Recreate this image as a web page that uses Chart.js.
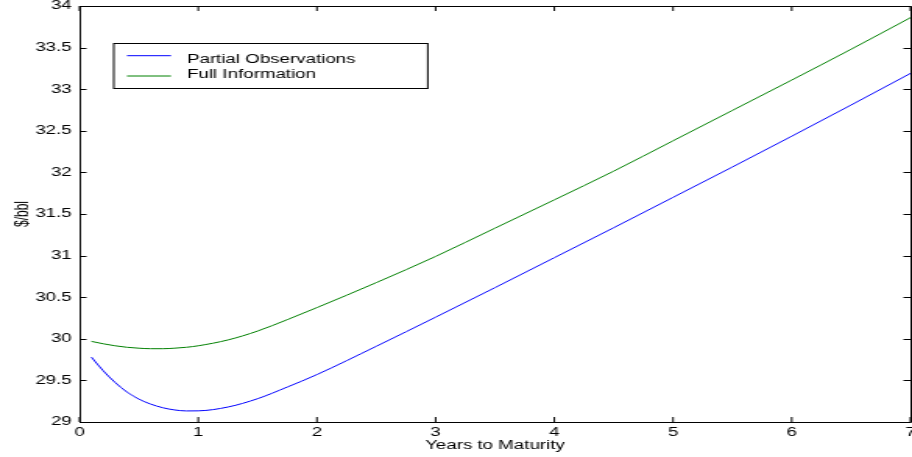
<!DOCTYPE html>
<html>
<head>
<meta charset="utf-8">
<script src="https://cdn.jsdelivr.net/npm/chart.js@4/dist/chart.umd.min.js"></script>
<style>
  html, body { margin: 0; padding: 0; background: #fff; overflow: hidden; }
  #wrap { width: 912px; height: 457px; overflow: hidden; }
  canvas { transform-origin: 0 0; }
</style>
</head>
<body>
<div id="wrap"><canvas id="chart" width="585" height="457"></canvas></div>
<script>
// the original figure is a horizontally stretched raster, so the chart is drawn
// narrower and widened with a css transform
const STRETCH = 912 / 585;

const maturity = [0.1, 0.2, 0.3, 0.4, 0.5, 0.6, 0.7, 0.8, 0.9, 1.0, 1.25, 1.5, 1.75,
                  2, 2.5, 3, 3.5, 4, 4.5, 5, 5.5, 6, 6.5, 7];

const partialObs = [29.78, 29.615, 29.475, 29.36, 29.275, 29.215, 29.172, 29.145, 29.133, 29.134,
                    29.18, 29.28, 29.42, 29.57, 29.91, 30.26, 30.615, 30.975, 31.335, 31.70,
                    32.065, 32.435, 32.81, 33.19];

const fullInfo = [29.969, 29.94, 29.916, 29.898, 29.887, 29.881, 29.881, 29.887, 29.898, 29.916,
                  29.986, 30.093, 30.23, 30.375, 30.675, 30.99, 31.33, 31.67, 32.015, 32.38,
                  32.745, 33.11, 33.48, 33.86];

const seriesLabels = ['Partial Observations', 'Full Information'];
const seriesColors = ['#0000ff', '#008000'];

const FONT = '"Liberation Sans", Arial, Helvetica, sans-serif';

const toPoints = ys => maturity.map((x, i) => ({ x, y: ys[i] }));
const px = v => v / STRETCH;
const plainNumber = v => String(Number(v.toFixed(1)));

// box round the axes, ticks pointing inwards on all four sides
const frameTicks = {
    id: 'frameTicks',
    afterDraw(chart) {
        const { ctx, chartArea: a, scales } = chart;
        const len = 4.5;
        ctx.save();
        ctx.strokeStyle = '#000';
        ctx.lineWidth = 1;
        ctx.beginPath();
        ctx.rect(a.left + 0.5, a.top + 0.5, a.right - a.left, a.bottom - a.top);
        ctx.stroke();

        ctx.beginPath();
        scales.x.ticks.forEach(t => {
            const x = scales.x.getPixelForValue(t.value);
            ctx.moveTo(x, a.bottom);
            ctx.lineTo(x, a.bottom - 5);
            ctx.moveTo(x, a.top);
            ctx.lineTo(x, a.top + 5);
        });
        scales.y.ticks.forEach(t => {
            const y = Math.round(scales.y.getPixelForValue(t.value)) + 0.5;
            ctx.moveTo(a.left, y);
            ctx.lineTo(a.left + len, y);
            ctx.moveTo(a.right, y);
            ctx.lineTo(a.right - len, y);
        });
        ctx.stroke();
        ctx.restore();
    },
};

const legendBox = {
    id: 'legendBox',
    afterDraw(chart) {
        const { ctx } = chart;
        const left = px(113), right = px(427), top = 43, bottom = 88;
        const lineY = [55.7, 76];
        const textY = [63.3, 78.3];
        ctx.save();
        ctx.fillStyle = '#fff';
        ctx.fillRect(left, top, right - left, bottom - top);
        ctx.strokeStyle = '#000';
        ctx.lineWidth = 1;
        ctx.strokeRect(left + 0.5, top + 0.5, right - left, bottom - top);

        ctx.font = '12px ' + FONT;
        ctx.textBaseline = 'alphabetic';
        chart.data.datasets.forEach((ds, i) => {
            ctx.strokeStyle = ds.borderColor;
            ctx.beginPath();
            ctx.moveTo(px(127), lineY[i]);
            ctx.lineTo(px(171), lineY[i]);
            ctx.stroke();
            ctx.fillStyle = '#000';
            ctx.fillText(ds.label, px(187), textY[i]);
        });
        ctx.restore();
    },
};

Chart.defaults.font.family = FONT;
Chart.defaults.font.size = 12;
Chart.defaults.color = '#000';

const canvas = document.getElementById('chart');

new Chart(canvas, {
    type: 'line',
    data: {
        datasets: [partialObs, fullInfo].map((ys, i) => ({
            label:                  seriesLabels[i],
            data:                   toPoints(ys),
            borderColor:            seriesColors[i],
            borderWidth:            1,
            pointRadius:            0,
            fill:                   false,
            cubicInterpolationMode: 'monotone',
        })),
    },
    options: {
        responsive: false,
        animation:  false,
        layout:     { padding: { top: 6, right: 1, bottom: 0, left: 0 } },
        plugins:    { legend: { display: false }, tooltip: { enabled: false } },
        scales: {
            x: {
                type:   'linear',
                min:    0,
                max:    7,
                grid:   { display: false, drawTicks: false },
                border: { display: false },
                ticks:  { stepSize: 1, padding: 3, maxRotation: 0, callback: plainNumber },
                title:  { display: true, text: 'Years to Maturity', padding: 4 },
                afterFit(scale) {
                    scale.height = 35;
                    scale.paddingLeft = 0;
                    scale.paddingRight = 0;
                },
            },
            y: {
                min:    29,
                max:    34,
                grid:   { display: false, drawTicks: false },
                border: { display: false },
                ticks:  { stepSize: 0.5, padding: 5, callback: plainNumber },
                title:  { display: true, text: '$/bbl', padding: 7 },
                afterFit(scale) {
                    scale.width = 51;
                    scale.paddingTop = 0;
                    scale.paddingBottom = 0;
                },
            },
        },
    },
    plugins: [frameTicks, legendBox],
});

canvas.style.transform = 'scaleX(' + STRETCH + ')';
</script>
</body>
</html>
